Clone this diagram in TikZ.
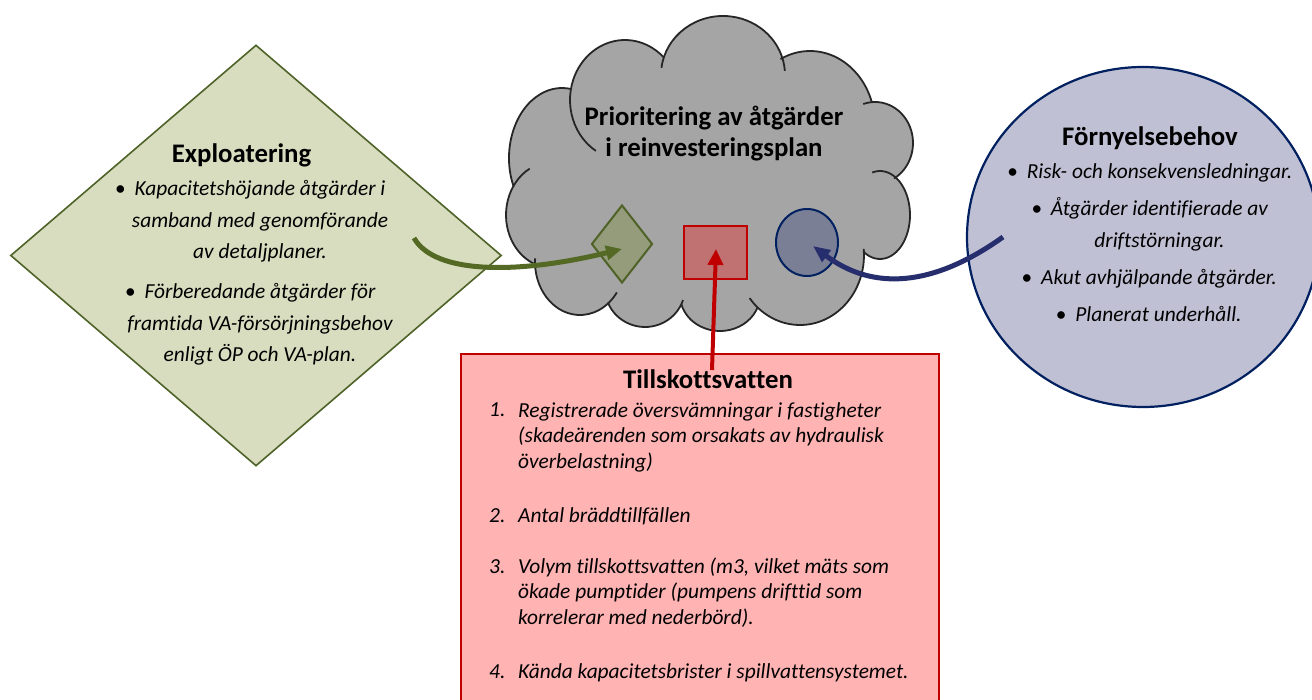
\documentclass[tikz,border=0pt]{standalone}
\usepackage{fontspec}
\setmainfont{Carlito}[Ligatures=CommonOff]
\usetikzlibrary{shapes.geometric,arrows.meta}
\definecolor{cloudfill}{HTML}{A5A5A5}
\definecolor{cloudline}{HTML}{262626}
\definecolor{olivefill}{HTML}{D8DDC0}
\definecolor{olivedark}{HTML}{4F6228}
\definecolor{olivesmall}{HTML}{959C7B}
\definecolor{greenarrow}{HTML}{546A24}
\definecolor{redline}{HTML}{C00000}
\definecolor{pinkfill}{HTML}{FFB3B3}
\definecolor{redsmall}{HTML}{C07272}
\definecolor{navyline}{HTML}{002060}
\definecolor{lavfill}{HTML}{C0C0D4}
\definecolor{navysmall}{HTML}{7A7F96}
\definecolor{navyarrow}{HTML}{262E6E}
\newcommand\cloudpuff[6]{\draw[cloudstroke] (#1,#2) ++(#5:#3 and #4) arc[start angle=#5,end angle=#6,x radius=#3,y radius=#4];}
\newcommand\cloudblob[4]{\fill[cloudfill] (#1,#2) ellipse[x radius=#3,y radius=#4];}
\begin{document}
\begin{tikzpicture}[x=1pt,y=-1pt,
  cloudstroke/.style={draw=cloudline,line width=1.8pt},
  bigdiam/.style={diamond,draw=olivedark,fill=olivefill,line width=1.6pt,inner sep=0pt,minimum width=491pt,minimum height=421pt},
  smalldiam/.style={diamond,draw=olivedark,fill=olivesmall,line width=2pt,inner sep=0pt,minimum width=61pt,minimum height=78pt},
  smallsq/.style={rectangle,draw=redline,fill=redsmall,line width=2.2pt,inner sep=0pt,minimum width=63pt,minimum height=53pt},
  smallcirc/.style={ellipse,draw=navyline,fill=navysmall,line width=2pt,inner sep=0pt,minimum width=62pt,minimum height=67pt},
  bigcirc/.style={ellipse,draw=navyline,fill=lavfill,line width=2.2pt,inner sep=0pt,minimum width=352pt,minimum height=340pt},
  bigrect/.style={rectangle,draw=redline,fill=pinkfill,line width=2.5pt,inner sep=0pt,minimum width=478pt,minimum height=366pt},
  ttl/.style={font=\fontsize{26.8}{31}\selectfont\bfseries,inner sep=0pt,anchor=base,align=center},
  bodyc/.style={font=\fontsize{21.4}{31.3}\selectfont\itshape,inner sep=0pt,anchor=base,align=center},
  bodyr/.style={font=\fontsize{21.4}{25.5}\selectfont\itshape,inner sep=0pt,anchor=base west,align=left},
  greenarr/.style={draw=greenarrow,line width=5pt,-{Triangle[length=16pt,width=14pt]}},
  redarr/.style={draw=redline,line width=4pt,-{Triangle[length=16pt,width=15pt]}},
  navyarr/.style={draw=navyarrow,line width=5pt,-{Triangle[length=17pt,width=14pt]}}]
\useasboundingbox (0,0) rectangle (1312,700);
\fill[white] (0,0) rectangle (1312,700);
% cloud fill
\cloudblob{625}{100}{55}{60}
\cloudblob{562}{158}{53}{70}
\cloudblob{552}{215}{46}{53}
\cloudblob{580}{262}{45}{53}
\cloudblob{645}{288}{40}{39}
\cloudblob{720}{295}{40}{36}
\cloudblob{800}{255}{64}{70}
\cloudblob{880}{215}{30}{44}
\cloudblob{875}{143}{38}{41}
\cloudblob{810}{125}{65}{74}
\cloudblob{723}{75}{62}{59}
\fill[cloudfill] (625,100) -- (723,75) -- (810,125) -- (875,143) -- (880,215) -- (800,255) -- (720,295) -- (645,288) -- (580,262) -- (552,215) -- (562,158) -- cycle;
% cloud outline
\cloudpuff{625}{100}{55}{60}{122}{315}
\cloudpuff{562}{158}{53}{70}{156}{280}
\cloudpuff{552}{215}{46}{53}{241}{111}
\cloudpuff{580}{262}{45}{53}{184}{35}
\cloudpuff{645}{288}{40}{39}{158}{18}
\cloudpuff{720}{295}{40}{36}{165}{20}
\cloudpuff{800}{255}{64}{70}{142}{-5}
\cloudpuff{880}{215}{30}{44}{124}{-105}
\cloudpuff{875}{143}{38}{41}{252}{420}
\cloudpuff{810}{125}{65}{74}{243}{342}
\cloudpuff{723}{75}{62}{59}{187}{356}
\coordinate (cloud) at (714,175);
\node[ttl] (cloudtitle) at (714,157) {Prioritering av åtgärder\\i reinvesteringsplan};
% small shapes in the cloud
\node[smalldiam] (sdiam) at (622,244) {};
\node[smallsq] (ssq) at (715.5,252.5) {};
\node[smallcirc] (scirc) at (807,242.5) {};
% big diamond
\node[bigdiam] (expl) at (256,255.5) {};
\node[ttl] (expltitle) at (241.5,163) {Exploatering};
\node[bodyc] (expl1) at (260,258.6) {\llap{\textbullet\hspace{9pt}}Kapacitetshöjande åtgärder i\\samband med genomförande\\av detaljplaner.};
\node[bodyc] (expl2) at (260,361.6) {\llap{\textbullet\hspace{9pt}}Förberedande åtgärder för\\framtida VA-försörjningsbehov\\enligt ÖP och VA-plan.};
% big circle
\node[bigcirc] (forn) at (1143,237) {};
\node[ttl] (forntitle) at (1150,146) {Förnyelsebehov};
\node[bodyc] (forn1) at (1159.5,179) {\llap{\textbullet\hspace{9pt}}Risk- och konsekvensledningar.};
\node[bodyc] (forn2) at (1159.5,247.3) {\llap{\textbullet\hspace{9pt}}Åtgärder identifierade av\\driftstörningar.};
\node[bodyc] (forn3) at (1159,285) {\llap{\textbullet\hspace{9pt}}Akut avhjälpande åtgärder.};
\node[bodyc] (forn4) at (1158.5,322) {\llap{\textbullet\hspace{9pt}}Planerat underhåll.};
% rectangle
\node[bigrect] (till) at (700,537) {};
\node[ttl] (tilltitle) at (708,389) {Tillskottsvatten};
\node[bodyr] (n1) at (489,417) {1.};
\node[bodyr] (t1) at (518,468) {Registrerade översvämningar i fastigheter\\(skadeärenden som orsakats av hydraulisk\\överbelastning)};
\node[bodyr] (n2) at (489,522) {2.};
\node[bodyr] (t2) at (518,522) {Antal bräddtillfällen};
\node[bodyr] (n3) at (489,573) {3.};
\node[bodyr] (t3) at (518,624) {Volym tillskottsvatten (m3, vilket mäts som\\ökade pumptider (pumpens drifttid som\\korrelerar med nederbörd).};
\begin{scope}
\clip (461,354) rectangle (939,681);
\node[bodyr] (n4) at (489,678) {4.};
\node[bodyr] (t4) at (518,678) {Kända kapacitetsbrister i spillvattensystemet.};
\end{scope}
% arrows
\coordinate (gstart) at (414,238);
\coordinate (gtip) at (622,249);
\draw[greenarr] (gstart) .. controls (435,275) and (520,274) .. (gtip);
\coordinate (rstart) at (712,370);
\coordinate (rtip) at (716,249);
\draw[redarr] (rstart) -- (rtip);
\coordinate (nstart) at (1003,237);
\coordinate (ntip) at (813,246);
\draw[navyarr] (nstart) .. controls (933,287) and (873,291) .. (ntip);
\end{tikzpicture}
\end{document}
